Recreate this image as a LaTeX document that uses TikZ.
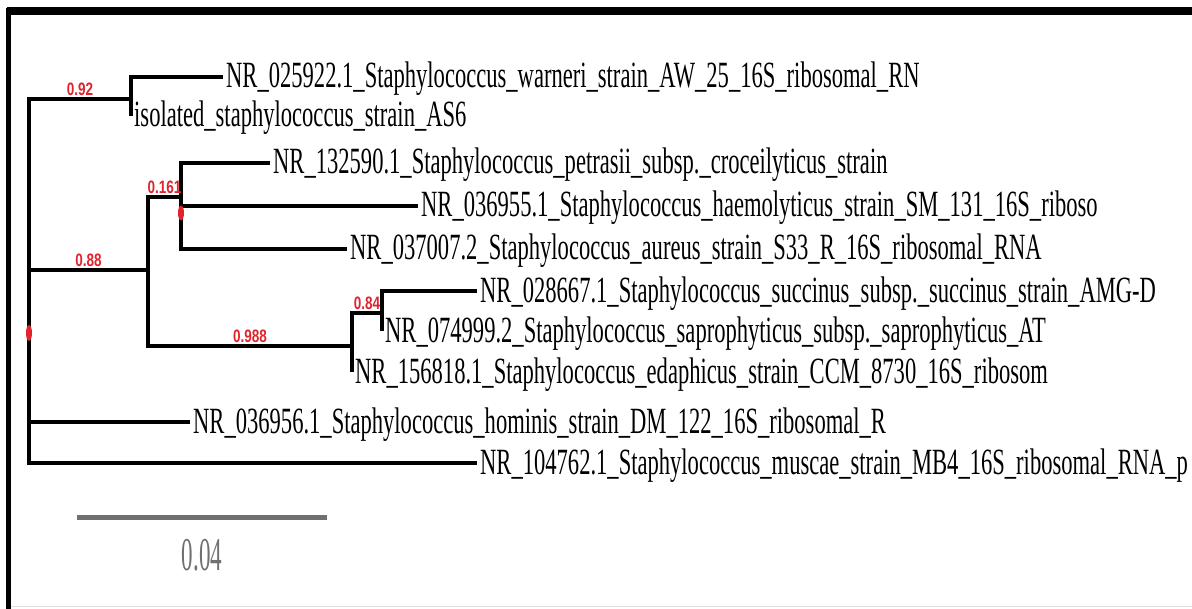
\documentclass[tikz,border=0pt]{standalone}
\usepackage{fontspec}
\setmainfont{Liberation Serif}
\newfontfamily\taxonfont[FakeStretch=0.61]{Liberation Serif}
\newfontfamily\supportfont[FakeStretch=0.75]{Liberation Sans}
\newfontfamily\barfont[FakeStretch=0.49]{Liberation Serif}
\usetikzlibrary{positioning,calc}
\definecolor{supportred}{RGB}{225,35,45}
\definecolor{bargray}{RGB}{112,112,112}

\begin{document}
\begin{tikzpicture}[x=1bp,y=-1bp,
  branch/.style={line width=4bp},
  taxon/.style={anchor=base west, inner xsep=3bp, inner ysep=0pt, yshift=-11bp,
    font=\taxonfont\fontsize{37bp}{40bp}\selectfont},
  support/.style={above=2bp, inner sep=1bp, text=supportred,
    font=\supportfont\bfseries\fontsize{18bp}{18bp}\selectfont}]
% Page and frame
\fill[white] (0,0) rectangle (1192,609);
\useasboundingbox (0,0) rectangle (1192,609);
\draw[line width=7.5bp] (7,11) -- (1192,11);
\draw[line width=5bp] (8.5,8) -- (8.5,609);
\draw[black!12, line width=1bp] (11,606.5) -- (1192,606.5);
% Internal nodes of the tree
\coordinate (root) at (29,333);
\coordinate (n092) at (131,99);
\coordinate (n088) at (148,270);
\coordinate (n0161) at (181,197);
\coordinate (n0988) at (352,346);
\coordinate (n084) at (382,313);
% Tips and taxon names
\foreach \id/\x/\y/\txt in {
  warneri/223/77/NR\_025922.1\_Staphylococcus\_warneri\_strain\_AW\_25\_16S\_ribosomal\_RN,
  as6/131/116/isolated\_staphylococcus\_strain\_AS6,
  petrasii/270/163/NR\_132590.1\_Staphylococcus\_petrasii\_subsp.\_croceilyticus\_strain,
  haemolyticus/418/206/NR\_036955.1\_Staphylococcus\_haemolyticus\_strain\_SM\_131\_16S\_riboso,
  aureus/347/249/NR\_037007.2\_Staphylococcus\_aureus\_strain\_S33\_R\_16S\_ribosomal\_RNA,
  succinus/477/291/NR\_028667.1\_Staphylococcus\_succinus\_subsp.\_succinus\_strain\_AMG-D,
  saprophyticus/382/331/NR\_074999.2\_Staphylococcus\_saprophyticus\_subsp.\_saprophyticus\_AT,
  edaphicus/352/372/NR\_156818.1\_Staphylococcus\_edaphicus\_strain\_CCM\_8730\_16S\_ribosom,
  hominis/190/422/NR\_036956.1\_Staphylococcus\_hominis\_strain\_DM\_122\_16S\_ribosomal\_R,
  muscae/477/463/NR\_104762.1\_Staphylococcus\_muscae\_strain\_MB4\_16S\_ribosomal\_RNA\_p} {
  \coordinate (\id) at (\x,\y);
  \node[taxon] (\id-name) at (\id) {\txt};
}
% Branches
\draw[branch] (warneri) -| (n092) -- (as6);
\draw[branch] (petrasii) -| (n0161) |- (aureus);
\draw[branch] (n0161 |- haemolyticus) -- (haemolyticus);
\draw[branch] (succinus) -| (n084) -- (saprophyticus);
\draw[branch] (n084) -| (n0988) -- (edaphicus);
\draw[branch] (n0161) -| (n088) |- (n0988);
\draw[branch] (n092) -| (root) |- (muscae);
\draw[branch] (root |- n088) -- (n088);
\draw[branch] (root |- hominis) -- (hominis);
% Support values
\path (root |- n092) -- node[support] (s092) {0.92} (n092);
\path (root |- n088) -- node[support] (s088) {0.88} (n088);
\path (n088 |- n0161) -- node[support] (s0161) {0.161} (n0161);
\path (n088 |- n0988) -- node[support] (s0988) {0.988} (n0988);
\path (n0988 |- n084) -- node[support] (s084) {0.84} (n084);
\fill[supportred] (root) ellipse (3bp and 8bp);
\fill[supportred] ([yshift=-16bp]n0161) ellipse (3bp and 7.5bp);
% Scale bar
\coordinate (bar-l) at (77,517);
\coordinate (bar-r) at (327,517);
\draw[line width=5bp, bargray] (bar-l) -- node[below=19bp, inner sep=1bp, text=bargray,
  font=\barfont\fontsize{47bp}{50bp}\selectfont] (bar-num) {0.04} (bar-r);
\end{tikzpicture}
\end{document}
